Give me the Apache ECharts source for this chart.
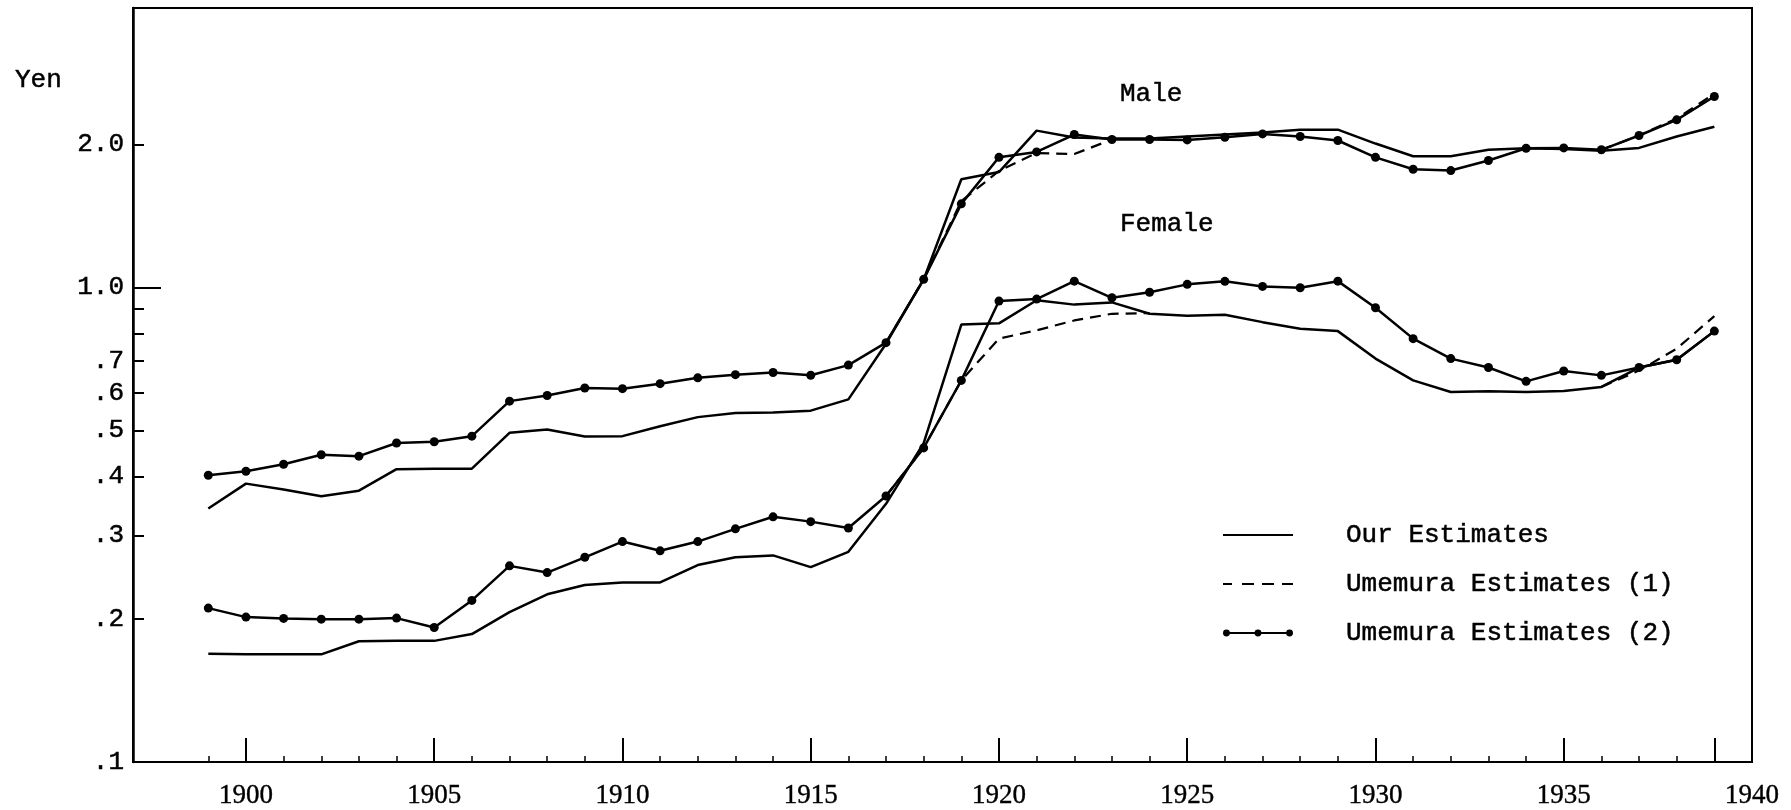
<!DOCTYPE html>
<html>
<head>
<meta charset="utf-8">
<title>Daily wages, male and female</title>
<script src="https://cdn.jsdelivr.net/npm/echarts@6/dist/echarts.min.js"></script>
<style>
  html, body { margin: 0; padding: 0; background: #fff; }
  #chart { width: 1791px; height: 810px; }
</style>
</head>
<body>
<div id="chart"></div>
<script>
// years on the x axis
const years = [1899, 1900, 1901, 1902, 1903, 1904, 1905, 1906, 1907, 1908,
  1909, 1910, 1911, 1912, 1913, 1914, 1915, 1916, 1917, 1918,
  1919, 1920, 1921, 1922, 1923, 1924, 1925, 1926, 1927, 1928,
  1929, 1930, 1931, 1932, 1933, 1934, 1935, 1936, 1937, 1938, 1939];

// male, yen
const maleOur = [0.342, 0.386, 0.375, 0.363, 0.373, 0.414, 0.415, 0.415, 0.494, 0.502,
  0.485, 0.486, 0.510, 0.533, 0.544, 0.545, 0.550, 0.581, 0.761, 1.04,
  1.69, 1.75, 2.14, 2.07, 2.06, 2.06, 2.08, 2.10, 2.12, 2.15,
  2.15, 2.01, 1.89, 1.89, 1.95, 1.965, 1.957, 1.942, 1.968, 2.08, 2.18];
const maleUme1 = [null, null, null, null, null, null, null, null, null, null,
  null, null, null, null, null, null, null, null, 0.765, 1.04,
  1.52, 1.76, 1.92, 1.91, 2.05, null, null, null, null, null,
  null, null, null, null, null, null, null, 1.95, 2.09, 2.27, 2.56];
const maleUme2 = [0.402, 0.410, 0.424, 0.444, 0.441, 0.470, 0.473, 0.486, 0.576, 0.592,
  0.614, 0.612, 0.627, 0.645, 0.655, 0.662, 0.653, 0.686, 0.765, 1.04,
  1.50, 1.88, 1.93, 2.10, 2.05, 2.05, 2.046, 2.072, 2.106, 2.08,
  2.04, 1.88, 1.774, 1.763, 1.851, 1.965, 1.968, 1.95, 2.09, 2.255, 2.525];

// female, yen
const femaleOur = [0.169, 0.1686, 0.1686, 0.1686, 0.1797, 0.180, 0.180, 0.186, 0.207, 0.2256,
  0.236, 0.239, 0.239, 0.260, 0.270, 0.2725, 0.2574, 0.2773, 0.350, 0.470,
  0.835, 0.840, 0.940, 0.920, 0.930, 0.880, 0.872, 0.876, 0.845, 0.818,
  0.809, 0.708, 0.637, 0.602, 0.604, 0.602, 0.605, 0.617, 0.678, 0.704, 0.809];
const femaleUme1 = [null, null, null, null, null, null, null, null, null, null,
  null, null, null, null, null, null, null, null, 0.3636, 0.459,
  0.637, 0.780, 0.812, 0.852, 0.880, 0.883, null, null, null, null,
  null, null, null, null, null, null, null, 0.617, 0.668, 0.743, 0.870];
const femaleUme2 = [0.211, 0.202, 0.2007, 0.200, 0.200, 0.201, 0.192, 0.219, 0.259, 0.2507,
  0.270, 0.2914, 0.2786, 0.2914, 0.310, 0.3286, 0.321, 0.3113, 0.3636, 0.459,
  0.637, 0.936, 0.945, 1.031, 0.951, 0.977, 1.015, 1.030, 1.005, 0.9986,
  1.031, 0.906, 0.780, 0.708, 0.678, 0.634, 0.6665, 0.6527, 0.678, 0.704, 0.809];

// axis ticks and labels
const xLabelYears = [1900, 1905, 1910, 1915, 1920, 1925, 1930, 1935, 1940];
const xMajorTicks = [1900, 1905, 1910, 1915, 1920, 1925, 1930, 1935, 1939];
const yLabelValues = [0.1, 0.2, 0.3, 0.4, 0.5, 0.6, 0.7, 1.0, 2.0];
const yTickValues = [0.2, 0.3, 0.4, 0.5, 0.6, 0.7, 0.8, 0.9, 2.0];
const yLongTick = [1.0];

const serifFont = '"Liberation Serif", "DejaVu Serif", serif';
const monoFont = '"Liberation Mono", "DejaVu Sans Mono", monospace';

const pairs = (vals) => years.map((y, i) => [y, vals[i]]);

const lineOur = { color: '#000', width: 2.5 };
const lineUme1 = { color: '#000', width: 2.2, type: [11, 7] };

const makeSeries = (name, vals, lineStyle, dots) => ({
  name: name,
  type: 'line',
  data: pairs(vals),
  lineStyle: lineStyle,
  itemStyle: { color: '#000' },
  symbol: dots ? 'circle' : 'none',
  symbolSize: 9,
  showSymbol: dots,
  connectNulls: false,
  silent: true,
});

// legend icons drawn to match the key in the original figure
const solidIcon = 'path://M0,4.1L70,4.1L70,5.9L0,5.9Z';
const dashIcon = 'path://M0,4.1L9,4.1L9,5.9L0,5.9Z' +
  'M19,4.1L31,4.1L31,5.9L19,5.9Z' +
  'M39,4.1L51,4.1L51,5.9L39,5.9Z' +
  'M59,4.1L70,4.1L70,5.9L59,5.9Z';
const dotsIcon = 'path://M3,4.1L67,4.1L67,5.9L3,5.9Z' +
  'M-0.5,5a3.5,3.5 0 1,1 7,0a3.5,3.5 0 1,1 -7,0Z' +
  'M31.5,5a3.5,3.5 0 1,1 7,0a3.5,3.5 0 1,1 -7,0Z' +
  'M63.5,5a3.5,3.5 0 1,1 7,0a3.5,3.5 0 1,1 -7,0Z';

const chart = echarts.init(document.getElementById('chart'));

chart.setOption({
  animation: false,
  backgroundColor: '#fff',
  grid: {
    left: 133, right: 39, top: 8, bottom: 48,
    show: true, borderColor: '#000', borderWidth: 2,
    outerBoundsMode: 'none',
  },
  legend: {
    orient: 'vertical',
    left: 1218,
    top: 515,
    itemWidth: 70,
    itemHeight: 10,
    itemGap: 19,
    selectedMode: false,
    textStyle: {
      fontFamily: monoFont, fontSize: 26, color: '#000',
      lineHeight: 30, padding: [0, 0, 0, 48],
      textBorderColor: '#000', textBorderWidth: 0.5,
    },
    data: [
      { name: 'Our Estimates', icon: solidIcon },
      { name: 'Umemura Estimates (1)', icon: dashIcon },
      { name: 'Umemura Estimates (2)', icon: dotsIcon },
    ],
  },
  xAxis: [
    {
      type: 'value',
      min: 1897,
      max: 1940,
      position: 'bottom',
      splitLine: { show: false },
      axisLine: { lineStyle: { color: '#000', width: 2 } },
      axisTick: {
        inside: true, length: 24, customValues: xMajorTicks,
        lineStyle: { color: '#000', width: 2 },
      },
      axisLabel: {
        customValues: xLabelYears,
        margin: 20,
        color: '#000',
        fontFamily: serifFont,
        fontSize: 27,
        textBorderColor: '#000',
        textBorderWidth: 0.4,
        formatter: (v) => String(v),
      },
    },
    {
      type: 'value',
      min: 1897,
      max: 1940,
      position: 'bottom',
      splitLine: { show: false },
      axisLine: { show: false },
      axisLabel: { show: false },
      axisTick: {
        inside: true, length: 6, customValues: years,
        lineStyle: { color: '#000', width: 1.5 },
      },
    },
  ],
  yAxis: [
    {
      type: 'log',
      logBase: 10,
      min: 0.1,
      max: 3.88,
      position: 'left',
      splitLine: { show: false },
      axisLine: { lineStyle: { color: '#000', width: 2.5 } },
      axisTick: {
        inside: true, length: 11, customValues: yTickValues,
        lineStyle: { color: '#000', width: 2 },
      },
      axisLabel: {
        customValues: yLabelValues,
        margin: 9,
        color: '#000',
        fontFamily: monoFont,
        fontSize: 26,
        textBorderColor: '#000',
        textBorderWidth: 0.5,
        formatter: (v) => (v >= 1 ? v.toFixed(1) : '.' + Math.round(v * 10)),
      },
    },
    {
      type: 'log',
      logBase: 10,
      min: 0.1,
      max: 3.88,
      position: 'left',
      splitLine: { show: false },
      axisLine: { show: false },
      axisLabel: { show: false },
      axisTick: {
        inside: true, length: 28, customValues: yLongTick,
        lineStyle: { color: '#000', width: 2 },
      },
    },
  ],
  graphic: [
    {
      type: 'text', x: 15, y: 80, silent: true,
      style: {
        text: 'Yen', font: '26px ' + monoFont, fill: '#000',
        stroke: '#000', lineWidth: 0.5, verticalAlign: 'middle',
      },
    },
    {
      type: 'text', x: 1120, y: 94, silent: true,
      style: {
        text: 'Male', font: '26px ' + monoFont, fill: '#000',
        stroke: '#000', lineWidth: 0.5, verticalAlign: 'middle',
      },
    },
    {
      type: 'text', x: 1120, y: 224, silent: true,
      style: {
        text: 'Female', font: '26px ' + monoFont, fill: '#000',
        stroke: '#000', lineWidth: 0.5, verticalAlign: 'middle',
      },
    },
  ],
  series: [
    makeSeries('Our Estimates', maleOur, lineOur, false),
    makeSeries('Our Estimates', femaleOur, lineOur, false),
    makeSeries('Umemura Estimates (1)', maleUme1, lineUme1, false),
    makeSeries('Umemura Estimates (1)', femaleUme1, lineUme1, false),
    makeSeries('Umemura Estimates (2)', maleUme2, lineOur, true),
    makeSeries('Umemura Estimates (2)', femaleUme2, lineOur, true),
  ],
});

window.addEventListener('resize', () => chart.resize());
</script>
</body>
</html>
